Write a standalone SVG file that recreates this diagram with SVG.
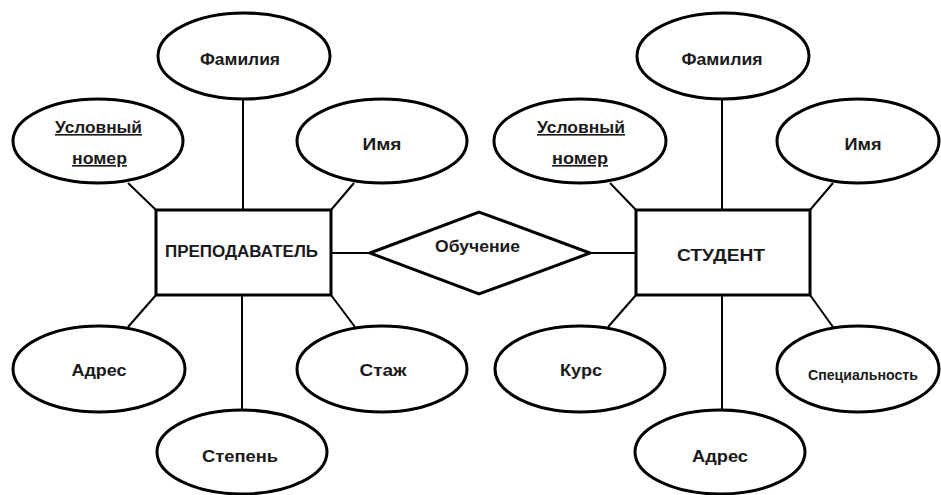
<svg xmlns="http://www.w3.org/2000/svg" width="941" height="495" viewBox="0 0 941 495">
<style>
.shape{fill:#fff;stroke:#000;stroke-width:3}
.conn line{stroke:#000;stroke-width:2}
text{font-family:"Liberation Sans",Arial,sans-serif;font-size:16px;font-weight:bold;fill:#1a1a1a;text-anchor:middle}
.u{text-decoration:underline}
</style>
<rect width="941" height="495" fill="#fff"/>
<g id="connectors" class="conn">
<line x1="243" y1="100" x2="243" y2="210"/>
<line x1="128" y1="183" x2="156" y2="210"/>
<line x1="354" y1="183" x2="331" y2="210"/>
<line x1="128" y1="327" x2="156" y2="295"/>
<line x1="355" y1="327" x2="331" y2="295"/>
<line x1="242" y1="295" x2="242" y2="410"/>
<line x1="331" y1="253" x2="370" y2="253"/>
<line x1="590" y1="253" x2="636" y2="253"/>
<line x1="722" y1="100" x2="722" y2="210"/>
<line x1="610" y1="183" x2="636" y2="210"/>
<line x1="833" y1="183" x2="810" y2="210"/>
<line x1="608" y1="327" x2="636" y2="295"/>
<line x1="833" y1="327" x2="810" y2="295"/>
<line x1="722" y1="295" x2="722" y2="410"/>
</g>
<g id="teacher"><rect class="shape" x="156" y="210" width="175" height="85"/><text x="241.5" y="257" textLength="153" lengthAdjust="spacingAndGlyphs">ПРЕПОДАВАТЕЛЬ</text></g>
<g id="student"><rect class="shape" x="636" y="210" width="174" height="85"/><text x="721" y="261" textLength="88" lengthAdjust="spacingAndGlyphs">СТУДЕНТ</text></g>
<g id="learning"><polygon class="shape" points="370,253 479,212 590,253 479,294"/><text x="477.5" y="252" textLength="85" lengthAdjust="spacingAndGlyphs">Обучение</text></g>
<g id="t-surname"><ellipse class="shape" cx="244" cy="56" rx="86" ry="43"/><text x="240" y="65" textLength="80" lengthAdjust="spacingAndGlyphs">Фамилия</text></g>
<g id="t-id"><ellipse class="shape" cx="98" cy="141" rx="85" ry="42"/><text class="u" x="98.5" y="133" textLength="87" lengthAdjust="spacingAndGlyphs">Условный</text><text class="u" x="99.5" y="164" textLength="55" lengthAdjust="spacingAndGlyphs">номер</text></g>
<g id="t-name"><ellipse class="shape" cx="382" cy="141" rx="85" ry="42"/><text x="382" y="150" textLength="39" lengthAdjust="spacingAndGlyphs">Имя</text></g>
<g id="t-address"><ellipse class="shape" cx="99" cy="369" rx="86" ry="43"/><text x="99" y="376" textLength="55" lengthAdjust="spacingAndGlyphs">Адрес</text></g>
<g id="t-stage"><ellipse class="shape" cx="382" cy="369" rx="85" ry="43"/><text x="383" y="376" textLength="47" lengthAdjust="spacingAndGlyphs">Стаж</text></g>
<g id="t-degree"><ellipse class="shape" cx="242" cy="452" rx="85" ry="42"/><text x="240" y="462" textLength="76" lengthAdjust="spacingAndGlyphs">Степень</text></g>
<g id="s-surname"><ellipse class="shape" cx="723" cy="56" rx="86" ry="43"/><text x="722" y="65" textLength="81" lengthAdjust="spacingAndGlyphs">Фамилия</text></g>
<g id="s-id"><ellipse class="shape" cx="580" cy="141" rx="86" ry="42"/><text class="u" x="581" y="133" textLength="88" lengthAdjust="spacingAndGlyphs">Условный</text><text class="u" x="580" y="164" textLength="56" lengthAdjust="spacingAndGlyphs">номер</text></g>
<g id="s-name"><ellipse class="shape" cx="858" cy="141" rx="81" ry="42"/><text x="863" y="150" textLength="37" lengthAdjust="spacingAndGlyphs">Имя</text></g>
<g id="s-course"><ellipse class="shape" cx="580" cy="369" rx="85" ry="43"/><text x="581" y="376" textLength="42" lengthAdjust="spacingAndGlyphs">Курс</text></g>
<g id="s-specialty"><ellipse class="shape" cx="858" cy="369" rx="81" ry="43"/><text x="863" y="380" textLength="110" lengthAdjust="spacingAndGlyphs" style="font-size:15px">Специальность</text></g>
<g id="s-address"><ellipse class="shape" cx="720" cy="452" rx="85" ry="42"/><text x="720" y="462" textLength="56" lengthAdjust="spacingAndGlyphs">Адрес</text></g>
</svg>
